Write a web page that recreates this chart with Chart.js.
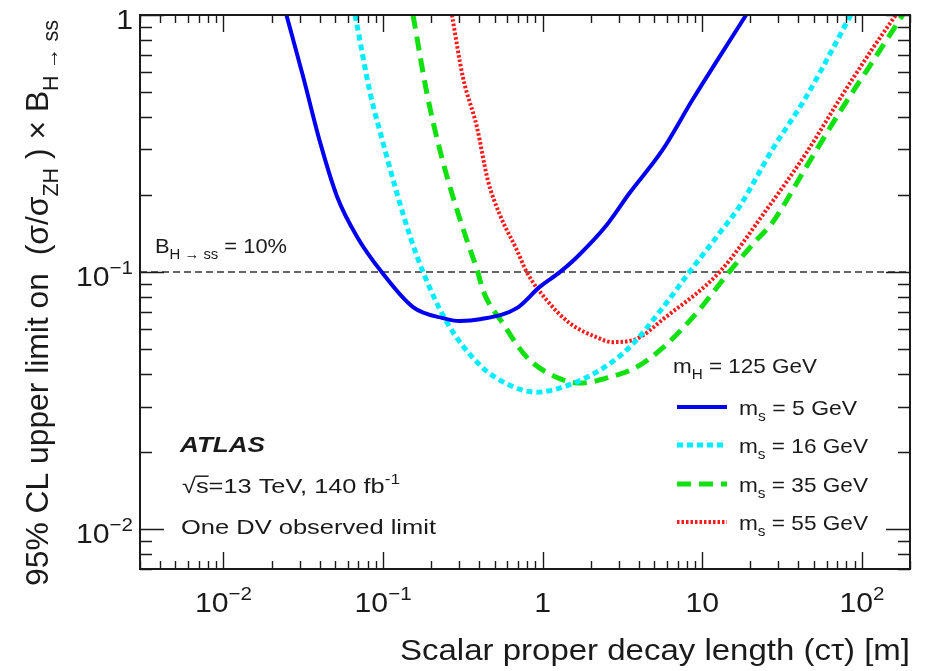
<!DOCTYPE html>
<html>
<head>
<meta charset="utf-8">
<script src="https://cdn.jsdelivr.net/npm/chart.js@4.4.0/dist/chart.umd.min.js"></script>
<style>
  html, body { margin: 0; padding: 0; background: #fff; }
  #wrap { width: 930px; height: 671px; }
</style>
</head>
<body>
<div id="wrap"><canvas id="limitChart" width="930" height="671"></canvas></div>
<script>
// --- data (c*tau in m, limit on sigma/sigma_ZH x B) ---
const ctau5   = [0.0248, 0.0316, 0.0404, 0.0516, 0.0688, 0.098, 0.154, 0.237, 0.303, 0.404, 0.688, 0.958, 1.28, 1.63, 2.51, 3.5, 5.62, 8.66, 12.8, 18.8];
const limit5  = [1.0, 0.574, 0.318, 0.196, 0.137, 0.1, 0.0731, 0.0662, 0.0645, 0.0655, 0.0724, 0.0876, 0.1, 0.114, 0.152, 0.203, 0.298, 0.467, 0.687, 1.0];

const ctau16  = [0.0668, 0.083, 0.1, 0.122, 0.148, 0.178, 0.251, 0.404, 0.622, 0.917, 1.33, 2.17, 3.5, 5.62, 8.3, 13.3, 17.0, 27.3, 44.7, 65, 85];
const limit16 = [1.0, 0.497, 0.318, 0.203, 0.137, 0.1, 0.0638, 0.0435, 0.0363, 0.0341, 0.0357, 0.0408, 0.051, 0.0724, 0.1, 0.146, 0.179, 0.298, 0.48, 0.731, 1.0];

const ctau35  = [0.154, 0.188, 0.227, 0.274, 0.335, 0.392, 0.422, 0.562, 0.794, 1.22, 1.7, 2.62, 3.87, 5.62, 9.18, 14.7, 21.8, 27.3, 44.7, 72, 115, 180];
const limit35 = [1.0, 0.497, 0.298, 0.196, 0.133, 0.1, 0.085, 0.0633, 0.0467, 0.039, 0.037, 0.039, 0.0427, 0.0506, 0.0692, 0.1, 0.133, 0.155, 0.256, 0.416, 0.65, 1.0];

const ctau55  = [0.27, 0.316, 0.387, 0.453, 0.539, 0.688, 0.794, 1.06, 1.475, 2.17, 2.74, 3.87, 5.79, 12.8, 25.1, 44.7, 72, 115, 163];
const limit55 = [1.0, 0.574, 0.367, 0.228, 0.167, 0.122, 0.1, 0.0778, 0.0633, 0.0558, 0.0534, 0.055, 0.0662, 0.1, 0.174, 0.29, 0.467, 0.731, 1.0];

const scalarMasses = ['5', '16', '35', '55'];
const refLevel = 0.1;   // B(H->ss) = 10%

const xRange = [0.003, 200];
const yRange = [0.007, 1];
const xTickValues = [0.01, 0.1, 1, 10, 100];
const xTickLabels = ['10^\u22122', '10^\u22121', '1', '10', '10^2'];
const yTickValues = [0.01, 0.1, 1];
const yTickLabels = ['10^\u22122', '10^\u22121', '1'];

// --- styles ---
const lineStyles = [
    { color: '#0000f0', dash: [],      width: 4 },
    { color: '#00eeff', dash: [6, 4],  width: 5 },
    { color: '#11e011', dash: [14, 8], width: 5 },
    { color: '#ff1a1a', dash: [2.5, 2], width: 4 }
];
const FONT = '"Liberation Sans", Arial, Helvetica, sans-serif';
const INK = '#1a1a1a';

function toPoints(xs, ys) {
    return xs.map((x, i) => ({ x: x, y: ys[i] }));
}

function fontFor(size, opt) {
    return (opt.italic ? 'italic ' : '') + (opt.bold ? 'bold ' : '') + size + 'px ' + FONT;
}

function isSmall(k) {
    return k === 'sub' || k === 'sup';
}

// segments: [text, ''|'sub'|'sup'|'root']
function richWidth(ctx, segs, size, opt) {
    let w = 0;
    segs.forEach(([t, k]) => {
        ctx.font = fontFor(isSmall(k) ? size * 0.68 : size, opt);
        w += ctx.measureText(t).width;
    });
    return w;
}

function drawRich(ctx, segs, x, y, size, opt) {
    opt = opt || {};
    const natural = richWidth(ctx, segs, size, opt);
    const sx = opt.width ? opt.width / natural : (opt.sx || 1);
    const total = natural * sx;
    let x0 = x;
    if (opt.align === 'right') x0 = x - total;
    else if (opt.align === 'center') x0 = x - total / 2;
    ctx.save();
    ctx.translate(x0, y);
    ctx.scale(sx, opt.sy || 1);
    ctx.fillStyle = opt.color || INK;
    ctx.strokeStyle = opt.color || INK;
    ctx.textAlign = 'left';
    ctx.textBaseline = 'alphabetic';
    let cx = 0;
    segs.forEach(([t, k]) => {
        const s = isSmall(k) ? size * 0.68 : size;
        ctx.font = fontFor(s, opt);
        const dy = k === 'sub' ? size * 0.3 : (k === 'sup' ? -size * 0.42 : 0);
        ctx.fillText(t, cx, dy);
        const w = ctx.measureText(t).width;
        if (k === 'root') {
            // overbar of the square root
            ctx.lineWidth = size * 0.07;
            ctx.beginPath();
            ctx.moveTo(cx - size * 0.03, -size * 0.8);
            ctx.lineTo(cx + w, -size * 0.8);
            ctx.stroke();
        }
        cx += w;
    });
    ctx.restore();
}

function labelSegs(label) {
    const parts = label.split('^');
    return parts.length > 1 ? [[parts[0], ''], [parts[1], 'sup']] : [[label, '']];
}

function logTicks(min, max) {
    const out = [];
    for (let d = Math.floor(Math.log10(min)); d <= Math.ceil(Math.log10(max)); d++) {
        for (let k = 1; k <= 9; k++) {
            const v = k * Math.pow(10, d);
            if (v >= min * 0.999 && v <= max * 1.001) out.push({ v: v, major: k === 1 });
        }
    }
    return out;
}

// frame, inward ticks, labels, legend and annotations
const decorations = {
    id: 'decorations',
    afterDatasetsDraw(chart) {
        const ctx = chart.ctx;
        const a = chart.chartArea;
        const xs = chart.scales.x;
        const ys = chart.scales.y;

        ctx.save();
        ctx.strokeStyle = INK;
        ctx.lineWidth = 1.4;
        ctx.beginPath();
        logTicks(xRange[0], xRange[1]).forEach(t => {
            const px = Math.round(xs.getPixelForValue(t.v)) + 0.5;
            const len = t.major ? 17 : 8;
            ctx.moveTo(px, a.bottom); ctx.lineTo(px, a.bottom - len);
            ctx.moveTo(px, a.top);    ctx.lineTo(px, a.top + len);
        });
        logTicks(yRange[0], yRange[1]).forEach(t => {
            const py = Math.round(ys.getPixelForValue(t.v)) + 0.5;
            const len = t.major ? 24 : 12;
            ctx.moveTo(a.left, py);  ctx.lineTo(a.left + len, py);
            ctx.moveTo(a.right, py); ctx.lineTo(a.right - len, py);
        });
        ctx.stroke();

        ctx.lineWidth = 2;
        ctx.strokeRect(a.left, a.top, a.right - a.left, a.bottom - a.top);
        ctx.restore();

        // tick labels
        xTickValues.forEach((v, i) => {
            drawRich(ctx, labelSegs(xTickLabels[i]), xs.getPixelForValue(v), 612, 28, { align: 'center', sx: 1.08 });
        });
        yTickValues.forEach((v, i) => {
            drawRich(ctx, labelSegs(yTickLabels[i]), 133, ys.getPixelForValue(v) + 14, 28, { align: 'right', sx: 1.08 });
        });

        // axis titles
        drawRich(ctx, [['Scalar proper decay length (c\u03c4) [m]', '']], a.right, 660, 30, { align: 'right', width: 510 });
        ctx.save();
        ctx.translate(48, 586);
        ctx.rotate(-Math.PI / 2);
        drawRich(ctx, [
            ['95% CL upper limit on  (\u03c3/\u03c3', ''], ['ZH', 'sub'],
            [' ) \u00d7 B', ''], ['H \u2192 ss', 'sub']
        ], 0, 0, 28, { width: 566, sy: 1.15 });
        ctx.restore();

        // reference line label
        drawRich(ctx, [['B', ''], ['H \u2192 ss', 'sub'], [' = 10%', '']], 155, 253, 21, { width: 132 });

        // ATLAS block
        drawRich(ctx, [['ATLAS', '']], 180, 452, 22, { width: 85, bold: true, italic: true });
        drawRich(ctx, [['\u221a', ''], ['s', 'root'], ['=13 TeV, 140 fb', ''], ['-1', 'sup']], 182, 493, 21, { width: 218 });
        drawRich(ctx, [['One DV observed limit', '']], 181, 534, 21, { width: 255 });

        // legend
        drawRich(ctx, [['m', ''], ['H', 'sub'], [' = 125 GeV', '']], 673, 373, 21, { width: 144 });
        const rowY = [407, 445, 484, 522];
        chart.data.datasets.slice(0, scalarMasses.length).forEach((ds, i) => {
            ctx.save();
            ctx.strokeStyle = ds.borderColor;
            ctx.lineWidth = ds.borderWidth;
            ctx.setLineDash(ds.borderDash);
            ctx.beginPath();
            ctx.moveTo(677, rowY[i]);
            ctx.lineTo(727, rowY[i]);
            ctx.stroke();
            ctx.restore();
            drawRich(ctx, [['m', ''], ['s', 'sub'], [' = ' + scalarMasses[i] + ' GeV', '']],
                739, rowY[i] + 8, 21, { width: i === 0 ? 118 : 129 });
        });
    }
};

const curves = [
    [ctau5, limit5], [ctau16, limit16], [ctau35, limit35], [ctau55, limit55]
].map(([xs, ys], i) => ({
    label: 'm_s = ' + scalarMasses[i] + ' GeV',
    data: toPoints(xs, ys),
    borderColor: lineStyles[i].color,
    borderWidth: lineStyles[i].width,
    borderDash: lineStyles[i].dash,
    borderCapStyle: 'butt',
    cubicInterpolationMode: 'monotone',
    pointRadius: 0,
    fill: false
}));

curves.push({
    label: 'B = 10%',
    data: toPoints(xRange, [refLevel, refLevel]),
    borderColor: '#333',
    borderWidth: 1.5,
    borderDash: [7, 4],
    pointRadius: 0,
    fill: false
});

new Chart(document.getElementById('limitChart').getContext('2d'), {
    type: 'line',
    data: { datasets: curves },
    options: {
        responsive: false,
        animation: false,
        devicePixelRatio: 1,
        events: [],
        layout: { padding: { top: 15, right: 20, left: 0, bottom: 0 } },
        scales: {
            x: {
                type: 'logarithmic',
                min: xRange[0],
                max: xRange[1],
                ticks: { display: false },
                grid: { display: false },
                border: { display: false },
                afterFit: s => { s.height = 102; }
            },
            y: {
                type: 'logarithmic',
                min: yRange[0],
                max: yRange[1],
                ticks: { display: false },
                grid: { display: false },
                border: { display: false },
                afterFit: s => { s.width = 140; }
            }
        },
        plugins: {
            legend: { display: false },
            tooltip: { enabled: false }
        }
    },
    plugins: [decorations]
});
</script>
</body>
</html>
